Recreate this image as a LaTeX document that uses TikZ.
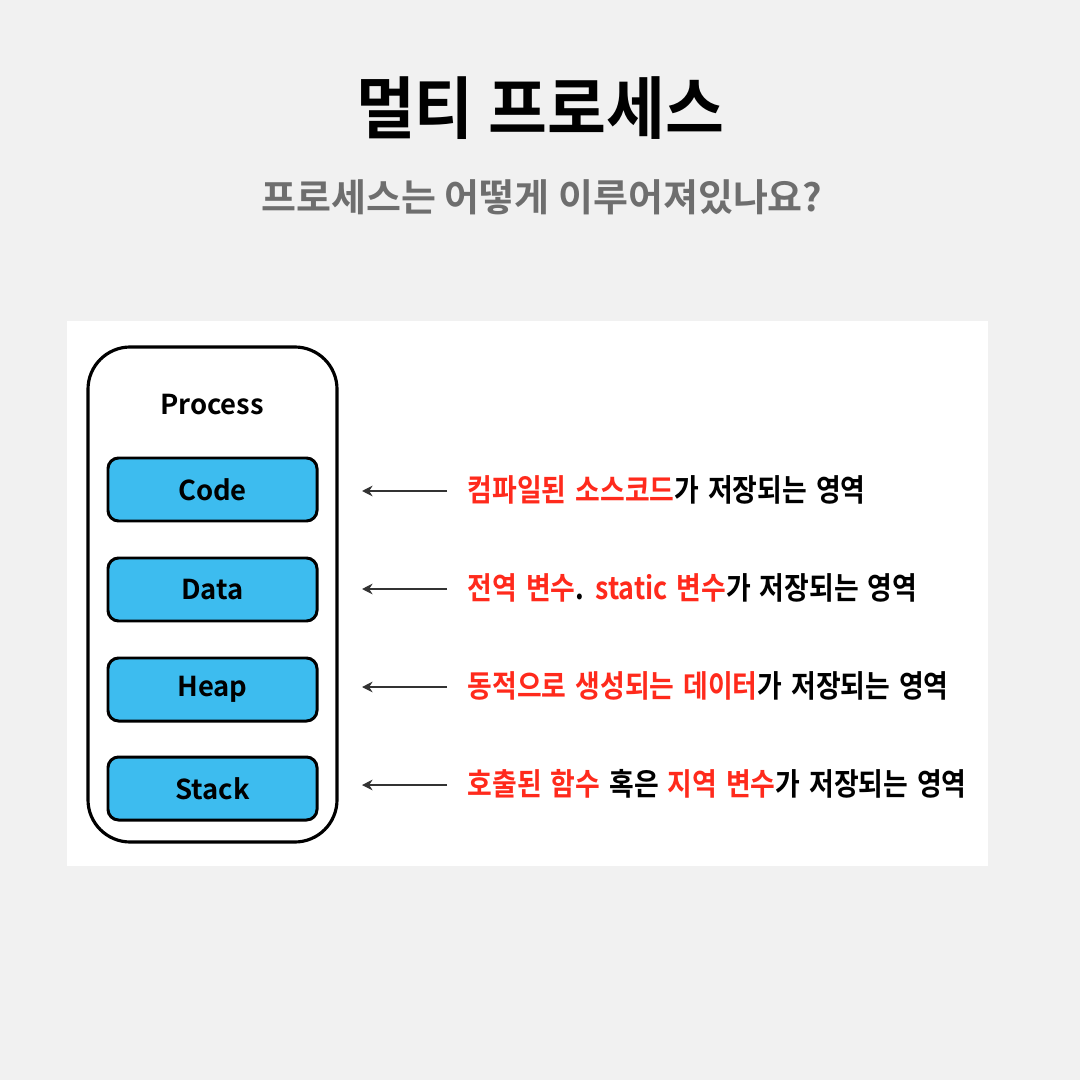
\documentclass[tikz,border=0pt]{standalone}
\usepackage{fontspec}
\usetikzlibrary{arrows.meta}
\newfontfamily\kr{Noto Sans CJK KR}[BoldFont={* Bold}]
\definecolor{bgray}{HTML}{F1F1F1}
\definecolor{memblue}{HTML}{3DBCEF}
\definecolor{hired}{HTML}{FF2A1C}
\definecolor{subgray}{HTML}{6E6E6E}
\newcommand{\rd}[1]{\textcolor{hired}{#1}}
\newcommand{\desctext}[1]{\spaceskip=0.09cm\relax\scalebox{1}[1.15]{#1}}
\newlength{\pxu}
\setlength{\pxu}{0.01cm}
\tikzset{
  memseg/.style={draw=black, line width=0.85pt, fill=memblue, rounded corners=3pt,
    minimum width=209\pxu, minimum height=63\pxu, inner sep=0pt,
    font=\kr\bfseries\fontsize{7.8pt}{9pt}\selectfont},
  desc/.style={anchor=west, inner sep=0pt, font=\kr\bfseries\fontsize{7.64pt}{9pt}\selectfont},
  ptr/.style={-{Stealth[length=3pt,width=3pt]}, line width=0.35pt, draw=black!80}
}
\begin{document}
\begin{tikzpicture}[x=0.01cm, y=-0.01cm]
\useasboundingbox (0,0) rectangle (1080,1080);
\fill[bgray] (0,0) rectangle (1080,1080);
\fill[white] (67,321) rectangle (988,866);
% title
\node[font=\kr\bfseries\fontsize{18.2pt}{20pt}\selectfont, inner sep=0pt] (title) at (540,108) {\scalebox{1}[1.06]{멀티 프로세스}};
\node[font=\kr\bfseries\fontsize{10.8pt}{12pt}\selectfont, text=subgray, inner sep=0pt] (subtitle) at (542,197) {프로세스는 어떻게 이루어져있나요?};
% process container
\draw[line width=0.9pt, rounded corners=12pt] (88,347) rectangle (337,842);
\node[font=\kr\bfseries\fontsize{7.8pt}{9pt}\selectfont, inner sep=0pt] (proc) at (212,405) {Process};
\node[memseg] (code) at (212.5,489.5) {Code};
\node[memseg] (data) at (212.5,589.5) {Data};
\node[memseg] (heap) at (212.5,689.5) {Heap};
\node[memseg] (stack) at (212.5,788.5) {Stack};
% descriptions
\node[desc] (d1) at (467,490) {\desctext{\rd{컴파일된 소스코드}가 저장되는 영역}};
\node[desc] (d2) at (467,588) {\desctext{\rd{전역 변수}. \rd{static 변수}가 저장되는 영역}};
\node[desc] (d3) at (467,686) {\desctext{\rd{동적으로 생성되는 데이터}가 저장되는 영역}};
\node[desc] (d4) at (467,784) {\desctext{\rd{호출된 함수} 혹은 \rd{지역 변수}가 저장되는 영역}};
% arrows
\coordinate (a1) at (362,491);
\coordinate (a2) at (362,589);
\coordinate (a3) at (362,687);
\coordinate (a4) at (362,785);
\draw[ptr] ([xshift=-20\pxu]d1.west |- a1) -- (a1);
\draw[ptr] ([xshift=-20\pxu]d2.west |- a2) -- (a2);
\draw[ptr] ([xshift=-20\pxu]d3.west |- a3) -- (a3);
\draw[ptr] ([xshift=-20\pxu]d4.west |- a4) -- (a4);
\end{tikzpicture}
\end{document}
